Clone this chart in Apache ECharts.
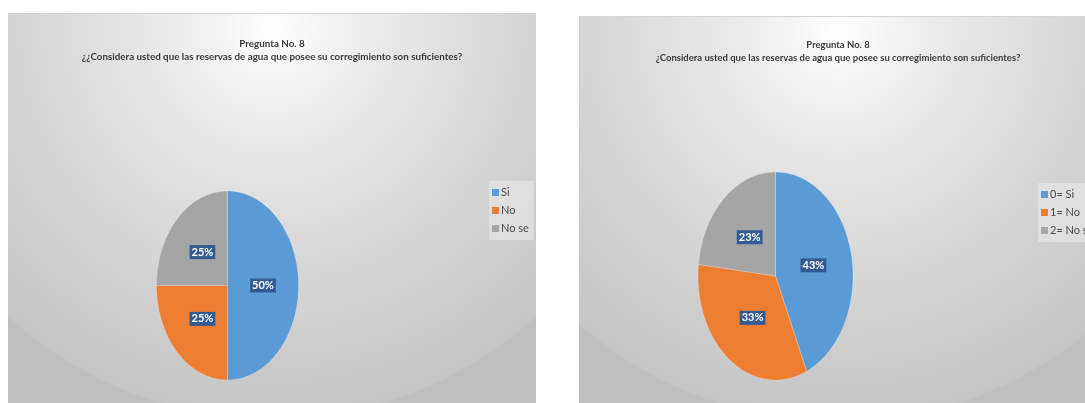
<!DOCTYPE html>
<html>
<head>
<meta charset="utf-8">
<script src="https://cdn.jsdelivr.net/npm/echarts@6/dist/echarts.min.js"></script>
<style>
  html, body { margin: 0; padding: 0; background: #ffffff; width: 1085px; height: 403px; overflow: hidden; }
  .panel { position: absolute; overflow: hidden;
    background: radial-gradient(circle 392px at 50% 14px, #ffffff 0%, #f4f4f4 12%, #e5e5e5 35%, #d7d7d7 60%, #cbcbcb 85%, #c5c5c5 99.5%, #bfbfbf 100%);
    border-top: 1px solid #d6d6d6; box-sizing: border-box; }
  #left { left: 8px; top: 13px; width: 528px; height: 390px; }
  #right { left: 579px; top: 16px; width: 518px; height: 387px; }
</style>
</head>
<body>
<div id="left" class="panel"></div>
<div id="right" class="panel"></div>
<script>
// ---- data ----
const titleLine1 = 'Pregunta No. 8';
const leftTitleLine2 = '¿¿Considera usted que las reservas de agua que posee su corregimiento son suficientes?';
const rightTitleLine2 = '¿Considera usted que las reservas de agua que posee su corregimiento son suficientes?';
const leftCategories = ['Si', 'No', 'No se'];
const leftValues = [50, 25, 25];
const rightCategories = ['0= Si', '1= No', '2= No se'];
const rightValues = [43, 33, 23];

// ---- styles ----
const sliceColors = ['#5b9bd5', '#ed7d31', '#a5a5a5'];
const FONT = 'Lato, "Liberation Sans", Arial, sans-serif';

function buildOption(categories, values, line2, geom) {
  const total = values.reduce((a, b) => a + b, 0);
  const series = categories.map((name, k) => ({
    type: 'custom',
    name: name,
    coordinateSystem: 'none',
    itemStyle: { color: sliceColors[k] },
    data: [[values[k]]],
    renderItem: function (params, api) {
      const v = api.value(0);
      let start = 0;
      for (let i = 0; i < k; i++) start += values[i];
      const a0 = start / total * Math.PI * 2;
      const a1 = (start + v) / total * Math.PI * 2;
      const cx = geom.cx, cy = geom.cy, rx = geom.rx, ry = geom.ry;
      const pts = [[cx, cy]];
      const n = Math.max(4, Math.ceil((a1 - a0) / (Math.PI / 180)));
      for (let j = 0; j <= n; j++) {
        const a = a0 + (a1 - a0) * j / n;
        pts.push([cx + rx * Math.sin(a), cy - ry * Math.cos(a)]);
      }
      const am = (a0 + a1) / 2;
      return {
        type: 'group',
        children: [
          { type: 'polygon', shape: { points: pts },
            style: { fill: api.visual('color'), stroke: 'rgba(255,255,255,0.35)', lineWidth: 0.6 } },
          { type: 'text', x: cx + 0.5 * rx * Math.sin(am), y: cy - 0.5 * ry * Math.cos(am),
            style: { text: Math.round(v / total * 100) + '%', fill: '#ffffff',
              font: 'bold 11px ' + FONT, align: 'center', verticalAlign: 'middle',
              backgroundColor: '#345a94', padding: [2, 2, 1, 2] } }
        ]
      };
    }
  }));
  return {
    animation: false,
    backgroundColor: 'transparent',
    title: [
      { text: titleLine1, left: 'center', top: geom.titleTop,
        textStyle: { fontFamily: FONT, fontSize: geom.titleSize, fontWeight: 'bold', color: '#3a3a3a' } },
      { text: line2, left: 'center', top: geom.titleTop + 13,
        textStyle: { fontFamily: FONT, fontSize: geom.titleSize, fontWeight: 'bold', color: '#3a3a3a' } }
    ],
    legend: {
      orient: 'vertical',
      left: geom.legendLeft, top: geom.legendTop,
      icon: 'rect', itemWidth: 7, itemHeight: 7, itemGap: 5,
      padding: [5, 5, 5, 3],
      backgroundColor: 'rgba(235,235,235,0.55)',
      textStyle: { fontFamily: FONT, fontSize: 11, lineHeight: 13, color: '#4a4a4a', padding: [0, 0, 0, -3] },
      data: categories
    },
    series: series
  };
}

const leftChart = echarts.init(document.getElementById('left'));
leftChart.setOption(buildOption(leftCategories, leftValues, leftTitleLine2,
  { cx: 219.5, cy: 271.5, rx: 71, ry: 94.5, titleTop: 20, titleSize: 9.8, legendLeft: 481, legendTop: 167 }));

const rightChart = echarts.init(document.getElementById('right'));
rightChart.setOption(buildOption(rightCategories, rightValues, rightTitleLine2,
  { cx: 196.5, cy: 259, rx: 77.5, ry: 104, titleTop: 18, titleSize: 9.5, legendLeft: 459, legendTop: 166 }));
</script>
</body>
</html>
